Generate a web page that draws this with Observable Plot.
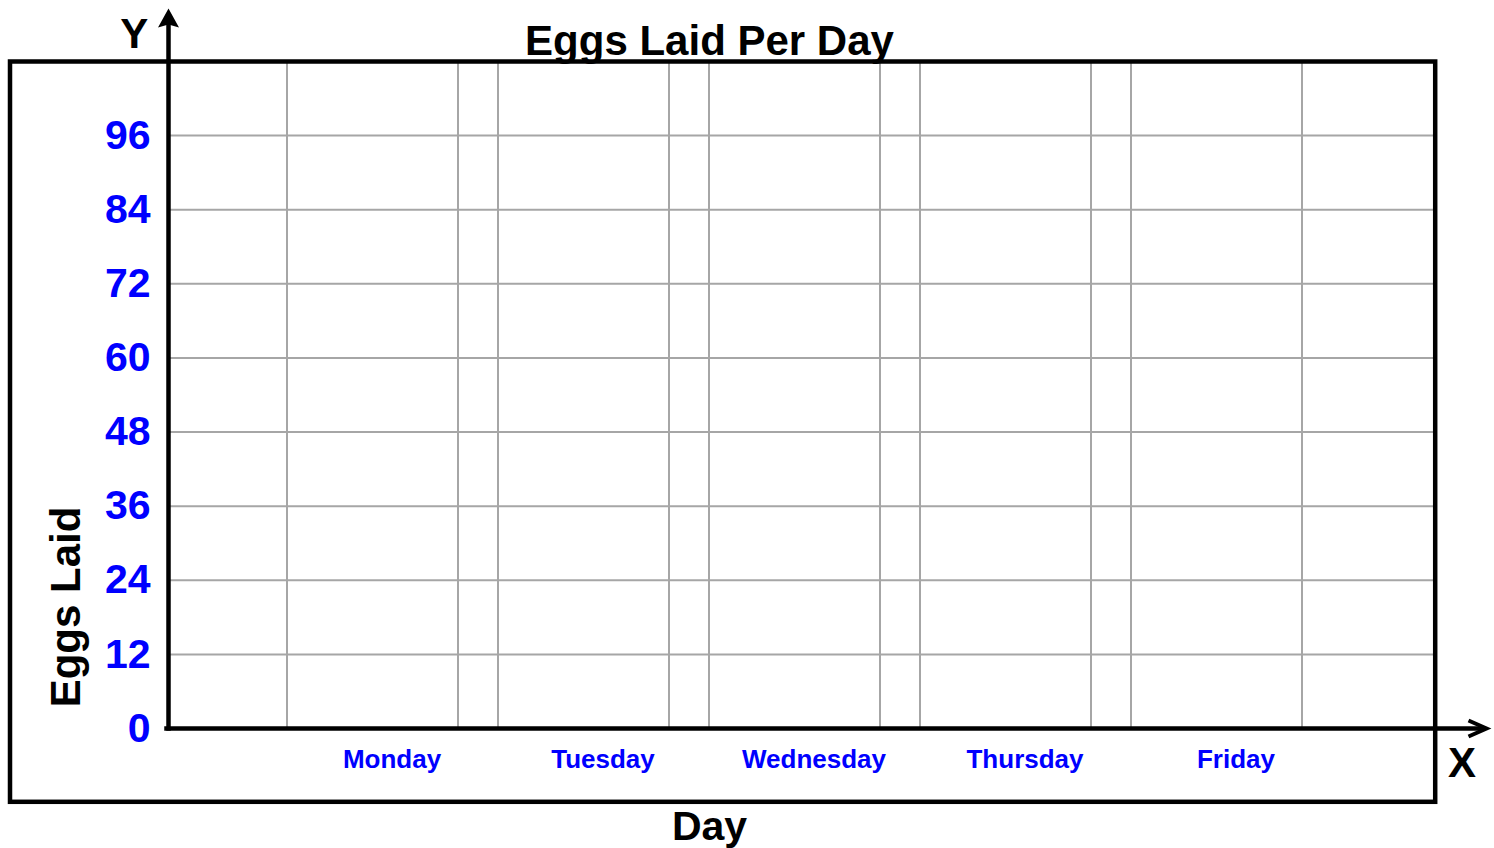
<!DOCTYPE html>
<html>
<head>
<meta charset="utf-8">
<script src="https://cdn.jsdelivr.net/npm/d3@7"></script>
<script src="https://cdn.jsdelivr.net/npm/@observablehq/plot@0.6"></script>
<style>
  body { margin: 0; background: #fff; }
  #chart svg { display: block; }
</style>
</head>
<body>
<div id="chart"></div>
<script>
// ---- data ----
const days = ["Monday", "Tuesday", "Wednesday", "Thursday", "Friday"];
const yTicks = [0, 12, 24, 36, 48, 60, 72, 84, 96];
const yMax = 108;
const titleText = ["Eggs Laid Per Day"];
const xLabel = ["Day"];
const yLabel = ["Eggs Laid"];
const xLetter = ["X"];
const yLetter = ["Y"];

// ---- styles ----
const FONT = "'Liberation Sans', Arial, Helvetica, sans-serif";
const BLUE = "#0000ff";
const GRID = "#a6a6a6";
const T = { fontWeight: "bold", fontFamily: FONT, lineAnchor: "middle", textAnchor: "middle" };

const chevron = {
  draw(ctx) {
    ctx.moveTo(-18, -8);
    ctx.lineTo(0, 0);
    ctx.lineTo(-18, 8);
  }
};
const upArrow = {
  draw(ctx) {
    ctx.moveTo(0, 0);
    ctx.lineTo(10.5, 19);
    ctx.lineTo(0, 16);
    ctx.lineTo(-10.5, 19);
    ctx.closePath();
  }
};

const plot = Plot.plot({
  width: 1494,
  height: 848,
  marginLeft: 168,
  marginRight: 61,
  marginTop: 61,
  marginBottom: 120,
  style: { fontFamily: FONT, background: "#fff", overflow: "visible" },
  x: { type: "band", domain: days, paddingInner: 0.19, paddingOuter: 0.588, align: 0.475, axis: null },
  y: { domain: [0, yMax], axis: null },
  marks: [
    // vertical grid: band edges
    Plot.barY(days, { x: d => d, y1: () => 0, y2: () => yMax, fill: "none", stroke: GRID, strokeWidth: 2 }),
    // horizontal grid
    Plot.gridY(yTicks.filter(v => v > 0), { stroke: GRID, strokeOpacity: 1, strokeWidth: 2 }),
    // title (under the frame line)
    Plot.text(titleText, { ...T, frameAnchor: "top", dx: -91.5, dy: -20, fontSize: 42, fill: "black" }),
    // outer frame
    Plot.frame({ stroke: "black", strokeWidth: 4.5, insetLeft: -158.5, insetRight: -1.7, insetBottom: -73.3 }),
    // y axis line + arrow
    Plot.frame({ anchor: "left", stroke: "black", strokeWidth: 4.5, insetTop: -40 }),
    Plot.dot([0], { frameAnchor: "top-left", dy: -53, symbol: upArrow, fill: "black", stroke: "none" }),
    // x axis line + arrow
    Plot.frame({ anchor: "bottom", stroke: "black", strokeWidth: 4.5, insetRight: -50, insetLeft: -2 }),
    Plot.dot([0], { frameAnchor: "bottom-right", dx: 53, symbol: chevron, fill: "none", stroke: "black", strokeWidth: 4 }),
    // y tick labels
    Plot.text(yTicks, { ...T, y: d => d, frameAnchor: "left", dx: -18, textAnchor: "end", text: d => String(d), fontSize: 41, fill: BLUE }),
    // x tick labels
    Plot.text(days, { ...T, x: d => d, frameAnchor: "bottom", dx: 19, dy: 31, text: d => d, fontSize: 26, fill: BLUE }),
    // axis titles
    Plot.text(xLabel, { ...T, frameAnchor: "bottom", dx: -91.5, dy: 98, fontSize: 41, fill: "black" }),
    Plot.text(yLabel, { ...T, frameAnchor: "left", dx: -101.5, dy: 212, rotate: -90, fontSize: 42, fill: "black" }),
    Plot.text(yLetter, { ...T, frameAnchor: "top-left", dx: -34.3, dy: -27.4, fontSize: 42, fill: "black" }),
    Plot.text(xLetter, { ...T, frameAnchor: "bottom-right", dx: 28.5, dy: 34.6, fontSize: 42, fill: "black" })
  ]
});

document.getElementById("chart").appendChild(plot);
</script>
</body>
</html>
